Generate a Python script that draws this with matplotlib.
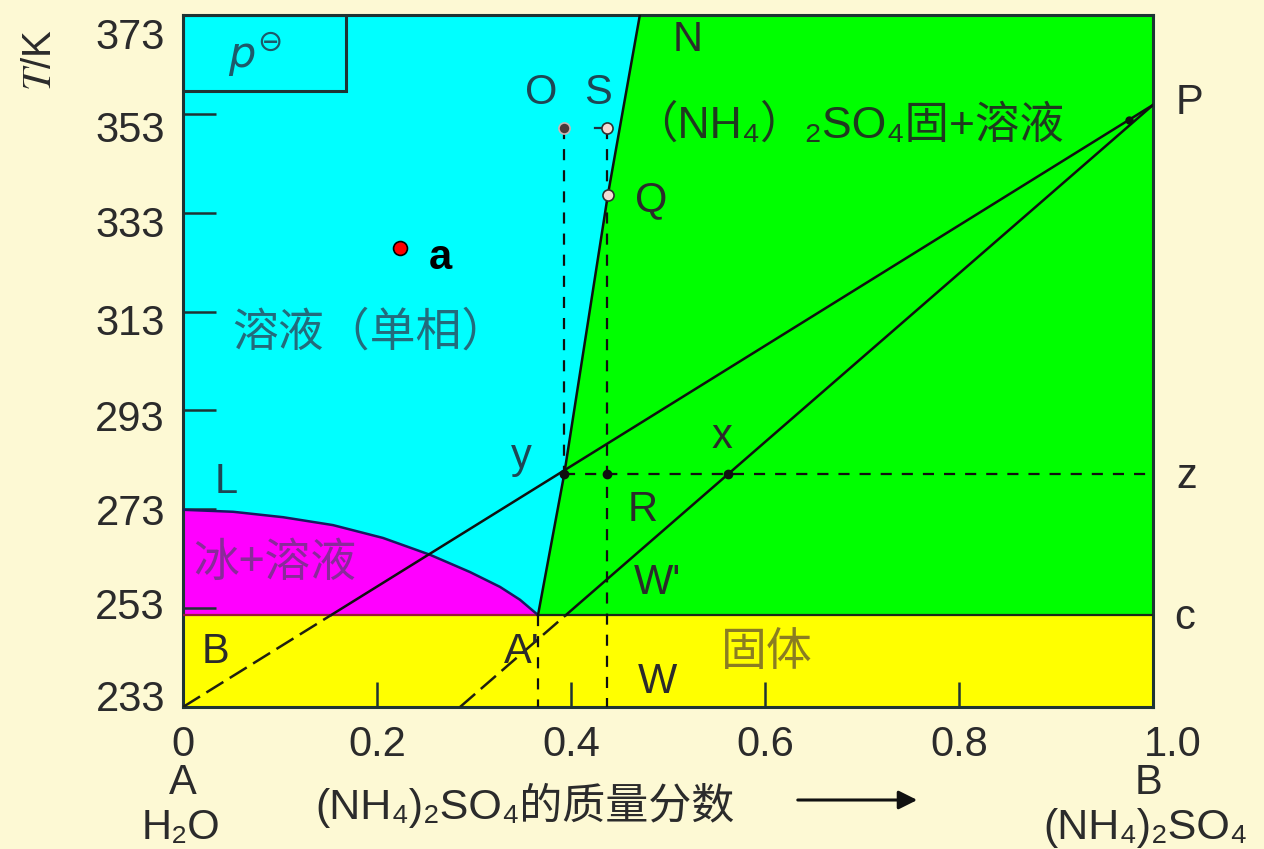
import matplotlib
matplotlib.use("Agg")
import matplotlib.pyplot as plt
import matplotlib.transforms as mtransforms
from matplotlib.patches import Rectangle, FancyArrowPatch
import numpy as np

# ---------------- data ----------------
x_ticks = [0, 0.2, 0.4, 0.6, 0.8, 1.0]
x_ticklabels = ["0", "0.2", "0.4", "0.6", "0.8", "1.0"]
T_ticks = [233, 253, 273, 293, 313, 333, 353, 373]
T_ticklabels = ["233", "253", "273", "293", "313", "333", "353", "373"]

# ice + solution boundary (freezing curve L)
ice_x = [0.000, 0.0515, 0.1031, 0.1546, 0.2062, 0.2546, 0.2959, 0.3268, 0.3474, 0.3660]
ice_T = [272.9, 272.5, 271.4, 269.8, 267.2, 263.8, 260.3, 257.3, 254.7, 251.6]

# solubility curve of (NH4)2SO4 (eutectic -> N)
sol_x = [0.366, 0.393, 0.438, 0.471]
sol_T = [251.6, 280.1, 336.6, 373.0]

T_eutectic = 251.6
T_min, T_max = 233, 373

# marked points
O_pt = (0.393, 350.1)
S_pt = (0.437, 350.1)
Q_pt = (0.438, 336.6)
y_pt = (0.393, 280.1)
R_pt = (0.437, 280.1)
x_pt = (0.562, 280.1)
P_pt = (1.0, 354.8)
a_pt = (0.2237, 325.9)

# straight composition lines meeting at P
lineB_x = [0.0, 1.0]
lineB_T = [233.0, 354.8]
lineA_x = [0.2856, 1.0]
lineA_T = [233.0, 354.8]

# ---------------- style ----------------
bg = "#fdf9d4"
c_cyan = "#00ffff"
c_green = "#00ff00"
c_mag = "#ff00ff"
c_yel = "#ffff00"
frame_c = "#1e3434"
txt_c = "#2b2b2b"
LAT = ["Liberation Sans", "DejaVu Sans", "Noto Sans CJK SC"]
CJK = ["Noto Sans CJK SC", "DejaVu Sans"]
FS = 30      # latin label size
FS_CJK = 33  # chinese region label size

W, H = 1264, 849
fig = plt.figure(figsize=(W / 100, H / 100), dpi=100, facecolor=bg)
ax = fig.add_axes([183 / W, 1 - 707 / H, 970 / W, 692 / H])
ax.set_xlim(0, 1.0)
ax.set_ylim(T_min, T_max)

# ---------------- regions ----------------
ax.fill_between([0, 1.0], T_min, T_eutectic, color=c_yel, lw=0, zorder=1)
ax.fill(sol_x + [1.0, 1.0], sol_T + [T_max, T_eutectic], color=c_green, lw=0, zorder=1)
ax.fill([0.0] + sol_x[::-1] + ice_x[::-1], [T_max] + sol_T[::-1] + ice_T[::-1],
        color=c_cyan, lw=0, zorder=1)
ax.fill(ice_x + [0.0], ice_T + [T_eutectic], color=c_mag, lw=0, zorder=1)

# ---------------- lines ----------------
ax.plot([0, ice_x[-1]], [T_eutectic, T_eutectic], color="#9a1a3a", lw=1.6, zorder=3)
ax.plot([ice_x[-1], 1.0], [T_eutectic, T_eutectic], color="#1a2a1a", lw=1.6, zorder=3)
ax.plot(ice_x, ice_T, color="#1a1a60", lw=1.8, zorder=3)
ax.plot(sol_x, sol_T, color="#101010", lw=1.8, zorder=3)

for lx, lT in ((lineB_x, lineB_T), (lineA_x, lineA_T)):
    x_cross = float(np.interp(T_eutectic, lT, lx))
    ax.plot([x_cross, lx[1]], [T_eutectic, lT[1]], color="#101010", lw=1.8, zorder=3)
    ax.plot([lx[0], x_cross], [lT[0], T_eutectic], color="#202010", lw=1.8,
            ls=(0, (8, 3)), zorder=3)

dash = (0, (5, 4.5))
ax.plot([O_pt[0], y_pt[0]], [O_pt[1], y_pt[1]], color="#101010", lw=1.6, ls=dash, zorder=3)
ax.plot([S_pt[0], S_pt[0]], [S_pt[1], T_min], color="#101010", lw=1.6, ls=dash, zorder=3)
ax.plot([sol_x[0], sol_x[0]], [T_eutectic, T_min], color="#101010", lw=1.6, ls=dash, zorder=3)
ax.plot([y_pt[0], 1.0], [y_pt[1], y_pt[1]], color="#101010", lw=1.6, ls=dash, zorder=3)
ax.plot([S_pt[0] - 0.012, S_pt[0]], [S_pt[1], S_pt[1]], color="#203040", lw=1.6, zorder=3)

# points
ax.plot(*O_pt, "o", ms=8, mfc="#4a3a3a", mec="#c8b8b8", mew=1.2, zorder=5)
ax.plot(*S_pt, "o", ms=8, mfc="#f3dcd4", mec="#303030", mew=1.2, zorder=5)
ax.plot(*Q_pt, "o", ms=8, mfc="#f3dcd4", mec="#303030", mew=1.2, zorder=5)
for p in (y_pt, R_pt, x_pt):
    ax.plot(*p, "o", ms=6, color="#101010", zorder=5)
ax.plot(0.975, 351.7, "o", ms=5, color="#101010", zorder=5)
ax.plot(*a_pt, "o", ms=10, mfc="#ff0000", mec="#000000", mew=1.2, zorder=6)

# p-standard box
ax.add_patch(Rectangle((0, 357.6), 0.168, T_max - 357.6, fill=False,
                       ec=frame_c, lw=2.2, zorder=4))
ax.text(0.074, 364.9, r"$p^{\ominus}$", fontsize=31, color="#1d5a6a",
        ha="center", va="center", zorder=6)

# ---------------- region / point labels ----------------
def lab(x, T, s, size=FS, color=txt_c, fam=LAT, **kw):
    ax.text(x, T, s, fontsize=size, color=color, ha="center", va="center",
            family=fam, zorder=7, clip_on=False, **kw)

lab(0.5206, 367.9, "N")
lab(0.369, 357.2, "O", color="#1e4654")
lab(0.428, 357.2, "S", color="#1e4654")
lab(0.686, 350.7, "（NH₄）₂SO₄固+溶液", size=32, color="#1f3a1f")
lab(1.038, 355.2, "P")
lab(0.4825, 335.6, "Q")
lab(0.193, 308.7, "溶液（单相）", size=FS_CJK, color="#236b7c", fam=CJK)
lab(0.349, 283.6, "y", color="#1e4654")
lab(0.556, 287.6, "x")
lab(1.035, 279.5, "z")
lab(0.0443, 278.5, "L", color="#1e4654")
lab(0.474, 272.9, "R")
lab(0.0948, 262.1, "冰+溶液", size=FS_CJK, color="#8a2a9a", fam=CJK)
lab(0.489, 258.1, "W'")
lab(1.033, 251.0, "c")
lab(0.033, 244.1, "B")
lab(0.349, 244.1, "A'")
lab(0.602, 244.1, "固体", size=FS_CJK, color="#8a7d22", fam=CJK)
lab(0.489, 238.1, "W")
ax.text(0.265, 323.8, "a", fontsize=FS, fontweight="bold", color="#000000",
        ha="center", va="center", family=LAT, zorder=7)

# ---------------- axes styling ----------------
for sp in ax.spines.values():
    sp.set_color(frame_c)
    sp.set_linewidth(2.2)
ax.set_xticks(x_ticks)
ax.set_xticklabels(x_ticklabels, family=LAT, fontsize=FS, color=txt_c)
ax.set_yticks(T_ticks)
ax.set_yticklabels(T_ticklabels, family=LAT, fontsize=FS, color=txt_c)
ax.tick_params(axis="y", direction="in", length=24, width=1.8, color=frame_c, pad=13)
ax.tick_params(axis="x", direction="in", length=18, width=1.8, color=frame_c, pad=13)

# the hand-drawn reference spaces its T labels a little tighter than the frame
label_shift_pt = [-8.5, -3.5, 0.5, 3.5, 5.8, 6.5, 9.4, 13.0]
for lbl, dy in zip(ax.get_yticklabels(), label_shift_pt):
    lbl.set_transform(lbl.get_transform() +
                      mtransforms.ScaledTranslation(0, -dy / 72, fig.dpi_scale_trans))
# last composition label sits a bit right of the frame in the reference
last = ax.get_xticklabels()[-1]
last.set_transform(last.get_transform() +
                   mtransforms.ScaledTranslation(14 / 72, 0, fig.dpi_scale_trans))

def ftxt(px, py, s, size=FS, **kw):
    fig.text(px / W, 1 - py / H, s, fontsize=size, color=txt_c, ha="center",
             va="center", family=LAT, **kw)

ftxt(40, 60, r"$T$/K", size=29, rotation=90, math_fontfamily="stix")
ftxt(183, 783, "A")
ftxt(181, 828, "H₂O")
ftxt(1148, 783, "B")
ftxt(1146, 828, "(NH₄)₂SO₄", size=31)
ftxt(525, 805, "(NH₄)₂SO₄的质量分数", size=31)
fig.patches.append(FancyArrowPatch(
    (795 / W, 1 - 800 / H), (920 / W, 1 - 800 / H), transform=fig.transFigure,
    arrowstyle="-|>", mutation_scale=28, color="#111111", lw=2.2))

fig.savefig("out.png", dpi=100, facecolor=bg)
